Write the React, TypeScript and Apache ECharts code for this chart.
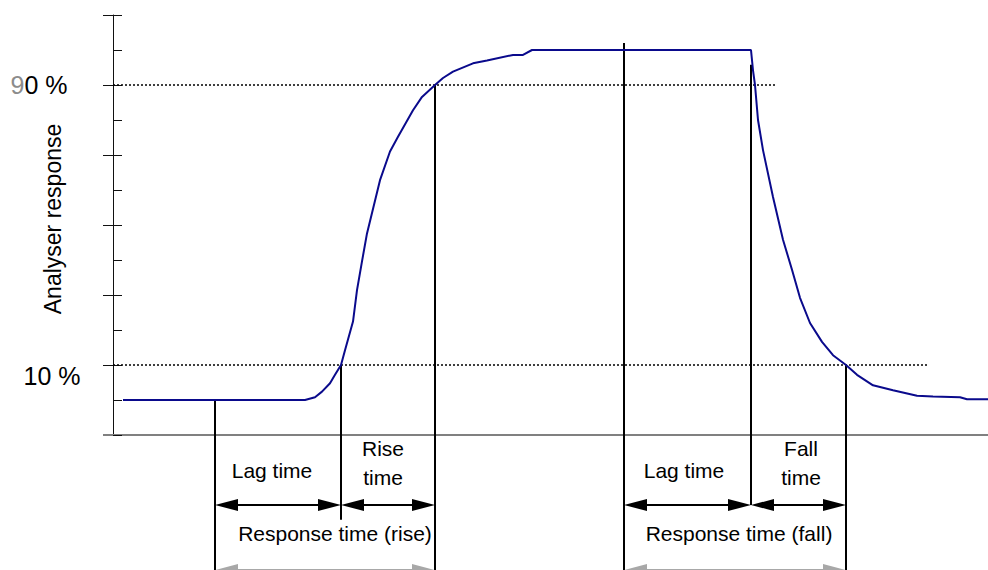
import React, { useEffect, useRef } from "react";
import * as echarts from "echarts";

// Analyser response curve (time in s, response in axis units: 1 = 10 %, 5 = 90 %)
const timeS = [1.0, 19.2, 20.2, 20.9, 21.7, 22.2, 22.8, 23.2, 24.0, 24.4, 24.9, 25.4, 25.9, 26.7, 27.7, 28.5, 30.0, 30.9, 32.2, 33.0, 34.0, 36.0, 37.4, 40.0, 41.0, 41.9, 63.8, 64.0, 64.2, 64.5, 65.0, 66.0, 67.0, 67.9, 68.7, 69.7, 70.9, 72.0, 73.3, 74.4, 76.0, 78.0, 80.4, 82.0, 84.7, 85.4, 87.5];
const response = [0.5, 0.5, 0.54, 0.62, 0.74, 0.86, 1.0, 1.21, 1.62, 2.07, 2.48, 2.88, 3.17, 3.64, 4.05, 4.26, 4.64, 4.83, 5.0, 5.1, 5.19, 5.31, 5.35, 5.43, 5.43, 5.5, 5.5, 5.21, 5.0, 4.5, 4.07, 3.4, 2.79, 2.36, 1.96, 1.6, 1.33, 1.14, 1.0, 0.86, 0.71, 0.64, 0.56, 0.55, 0.54, 0.51, 0.51];

// Threshold levels (10 % and 90 %)
const thresholdLevel = [5, 1];
const thresholdEnd = [66.4, 81.6];

// Vertical event markers
const markerT = [10.2, 22.8, 32.2, 51.1, 63.8, 73.3];
const markerTop = [0.5, 1.0, 5.0, 5.6, 5.29, 1.0];
const markerBottom = [-2.0, -1.21, -2.0, -2.0, -1.0, -2.0];

// Interval arrows
const arrowFrom = [10.2, 22.8, 51.1, 63.8];
const arrowTo = [22.8, 32.2, 63.8, 73.3];
const arrowLevel = -1.0;
const spanFrom = [10.2, 51.1];
const spanTo = [32.2, 73.3];
const spanLevel = -1.93;

// Annotation labels
const labelText = ["Lag time", "Rise\ntime", "Response time (rise)", "Lag time", "Fall\ntime", "Response time (fall)"];
const labelT = [15.9, 27.0, 22.2, 57.1, 68.8, 62.6];
const labelV = [-0.51, -0.4, -1.41, -0.51, -0.4, -1.41];

// Axis labels
const axisLabelText = ["{g|9}{b|0 %}", "{b|10 %}"];
const axisLabelT = [-7.4, -6.1];
const axisLabelV = [5.0, 0.843];
const axisTitle = "Analyser response";
const axisTitlePos = [-6.0, 3.086];

// Short extension of the time axis to the left of the response axis
const axisStubFrom = [-1.0];
const axisStubTo = [0];

const FONT = '"Liberation Sans", Arial, Helvetica, sans-serif';

export default function App() {
  const ref = useRef<HTMLDivElement>(null);
  useEffect(() => {
    if (!ref.current) return;
    const chart = echarts.init(ref.current, null, { renderer: "svg" });
    const curve = timeS.map((t, i) => [t, response[i]]);
    const thresholds = thresholdLevel.map((v, i) => [0, thresholdEnd[i], v]);
    const markers = markerT.map((t, i) => [t, markerTop[i], markerBottom[i]]);
    const arrows = arrowFrom.map((a, i) => [a, arrowTo[i], arrowLevel]);
    const spans = spanFrom.map((a, i) => [a, spanTo[i], spanLevel]);
    const labels = labelT.map((t, i) => [t, labelV[i]]);
    const axisLabels = axisLabelT.map((t, i) => [t, axisLabelV[i]]);
    const stub = axisStubFrom.map((a, i) => [a, axisStubTo[i], 0]);

    const hLine = (color: string, width: number, dash?: number[]) => (params: any, api: any) => {
      const a = api.coord([api.value(0), api.value(2)]);
      const b = api.coord([api.value(1), api.value(2)]);
      return { type: "line", shape: { x1: a[0], y1: a[1], x2: b[0], y2: b[1] }, style: { stroke: color, lineWidth: width, lineDash: dash } };
    };

    const arrowRender = (color: string) => (params: any, api: any) => {
      const a = api.coord([api.value(0), api.value(2)]);
      const b = api.coord([api.value(1), api.value(2)]);
      const L = 23, H = 6;
      return {
        type: "group",
        children: [
          { type: "line", shape: { x1: a[0] + L - 2, y1: a[1], x2: b[0] - L + 2, y2: b[1] }, style: { stroke: color, lineWidth: 2 } },
          { type: "polygon", shape: { points: [[a[0], a[1]], [a[0] + L, a[1] - H], [a[0] + L, a[1] + H]] }, style: { fill: color } },
          { type: "polygon", shape: { points: [[b[0], b[1]], [b[0] - L, b[1] - H], [b[0] - L, b[1] + H]] }, style: { fill: color } },
        ],
      };
    };

    chart.setOption({
      animation: false,
      grid: { left: 113, top: 15, width: 875, height: 420, containLabel: false },
      xAxis: {
        type: "value", min: 0, max: 87.5,
        axisLine: { show: true, onZero: false, lineStyle: { color: "#808080", width: 2 } },
        axisTick: { show: false }, axisLabel: { show: false }, splitLine: { show: false },
      },
      yAxis: [
        {
          type: "value", min: 0, max: 6, interval: 1,
          axisLine: { show: true, onZero: false, lineStyle: { color: "#111", width: 1 } },
          axisTick: { show: true, inside: false, length: 10, lineStyle: { color: "#111", width: 1 } },
          axisLabel: { show: false }, splitLine: { show: false },
        },
        {
          type: "value", min: 0, max: 6, interval: 0.5, position: "left",
          axisLine: { show: false, onZero: false },
          axisTick: { show: true, inside: true, length: 9, lineStyle: { color: "#111", width: 1 } },
          axisLabel: { show: false }, splitLine: { show: false },
        },
      ],
      series: [
        { type: "custom", clip: false, silent: true, data: stub, z: 1, renderItem: hLine("#808080", 2) },
        { type: "custom", clip: false, silent: true, data: thresholds, z: 1, renderItem: hLine("#000", 1.5, [2, 2]) },
        {
          type: "custom", clip: false, silent: true, data: markers, z: 2,
          renderItem: (params: any, api: any) => {
            const a = api.coord([api.value(0), api.value(1)]);
            const b = api.coord([api.value(0), api.value(2)]);
            return { type: "line", shape: { x1: a[0], y1: a[1], x2: b[0], y2: b[1] }, style: { stroke: "#000", lineWidth: 2 } };
          },
        },
        { type: "custom", clip: false, silent: true, data: arrows, z: 3, renderItem: arrowRender("#000") },
        { type: "custom", clip: false, silent: true, data: spans, z: 3, renderItem: arrowRender("#a8a8a8") },
        {
          type: "custom", clip: false, silent: true, data: labels, z: 4,
          renderItem: (params: any, api: any) => {
            const p = api.coord([api.value(0), api.value(1)]);
            return {
              type: "text", x: p[0], y: p[1],
              style: { text: labelText[params.dataIndex], fill: "#000", fontSize: 21, fontFamily: FONT, align: "center", verticalAlign: "middle", lineHeight: 29 },
            };
          },
        },
        {
          type: "custom", clip: false, silent: true, data: axisLabels, z: 4,
          renderItem: (params: any, api: any) => {
            const p = api.coord([api.value(0), api.value(1)]);
            return {
              type: "text", x: p[0], y: p[1],
              style: {
                text: axisLabelText[params.dataIndex], fill: "#000", fontSize: 25, fontFamily: FONT, align: "center", verticalAlign: "middle",
                rich: {
                  g: { fill: "#8c8c8c", fontSize: 25, fontFamily: FONT },
                  b: { fill: "#000", fontSize: 25, fontFamily: FONT },
                },
              },
            };
          },
        },
        {
          type: "custom", clip: false, silent: true, data: [axisTitlePos], z: 4,
          renderItem: (params: any, api: any) => {
            const p = api.coord([api.value(0), api.value(1)]);
            return {
              type: "text", x: p[0], y: p[1], rotation: Math.PI / 2,
              style: { text: axisTitle, fill: "#000", fontSize: 23, fontFamily: FONT, align: "center", verticalAlign: "middle" },
            };
          },
        },
        {
          type: "line", data: curve, showSymbol: false, silent: true, z: 5,
          lineStyle: { color: "#0a0a8c", width: 2 },
        },
      ],
    });
    return () => chart.dispose();
  }, []);
  return <div ref={ref} style={{ position: "fixed", left: 0, top: 0, width: 988, height: 570, background: "#fff" }} />;
}
